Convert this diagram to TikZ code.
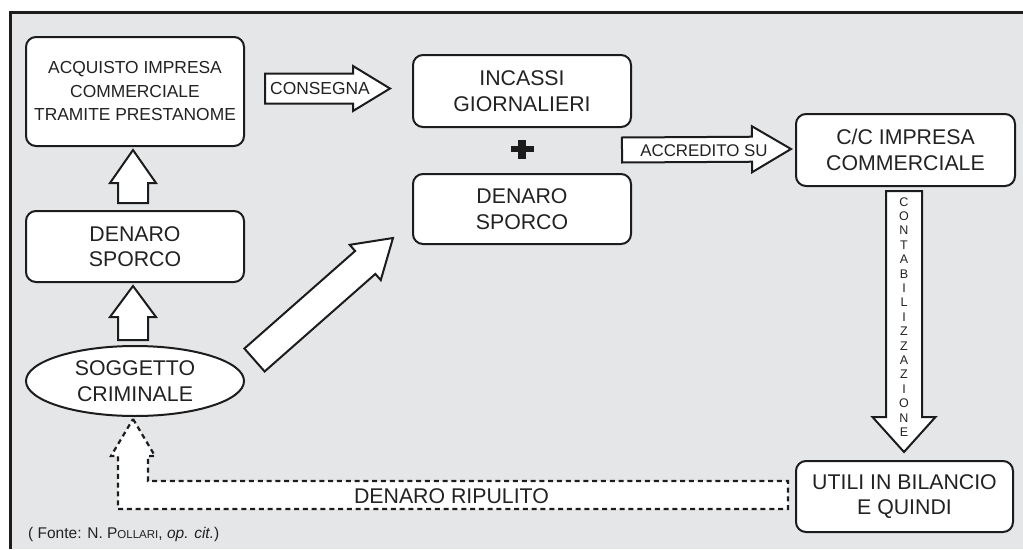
\documentclass[tikz,border=0pt]{standalone}
\usepackage{fontspec}
\setmainfont{Liberation Sans}
\usetikzlibrary{calc,shapes.geometric}

\definecolor{panel}{HTML}{E5E6E8}
\definecolor{ink}{HTML}{1C1C1C}
\definecolor{txt}{HTML}{222222}

% Block arrow: [style]{start}{tip}{shaft half width}{head half width}{head length}
\newcommand\fatarrow[6][]{%
  \coordinate (fa-hb) at ($(#3)!#6!(#2)$);
  \draw[fatarrow,#1]
    ($(#2)!#4!90:(#3)$) -- ($(fa-hb)!#4!90:(#3)$) -- ($(fa-hb)!#5!90:(#3)$)
    -- (#3)
    -- ($(fa-hb)!#5!-90:(#3)$) -- ($(fa-hb)!#4!-90:(#3)$) -- ($(#2)!#4!-90:(#3)$)
    -- cycle;}

\begin{document}
\begin{tikzpicture}[x=1pt,y=-1pt,
  box/.style={draw=ink, line width=2pt, rounded corners=10pt, fill=white,
    minimum width=218pt, align=center, inner sep=0pt, text=txt},
  oval/.style={draw=ink, line width=2pt, ellipse, fill=white,
    minimum width=218pt, minimum height=70pt, align=center, inner sep=0pt, text=txt},
  fatarrow/.style={draw=ink, line width=2pt, fill=white, line join=miter},
  dasharrow/.style={draw=ink, line width=2.2pt, fill=white, dash pattern=on 5pt off 3.8pt},
  big/.style={font=\fontsize{21.3}{25.5}\selectfont},
  mid/.style={font=\fontsize{17.4}{23.5}\selectfont},
  label/.style={inner sep=0pt, text=txt},
]
\useasboundingbox (0,0) rectangle (1023,549);
\fill[white] (0,0) rectangle (1023,549);
\fill[panel] (10.5,12) rectangle (1023,549);
\draw[ink, line width=3pt] (10.5,549) -- (10.5,12) -- (1023,12);

% boxes
\node[box, mid, minimum height=109pt] (A) at (135,91.5)
  {ACQUISTO IMPRESA\\COMMERCIALE\\TRAMITE PRESTANOME};
\node[box, big, minimum height=71pt] (B) at (135,246.5) {DENARO\\SPORCO};
\node[oval, big] (S) at (135,381) {SOGGETTO\\CRIMINALE};
\node[box, big, minimum height=72pt] (I) at (522,91) {INCASSI\\GIORNALIERI};
\node[box, big, minimum height=70pt] (D) at (522,209) {DENARO\\SPORCO};
\node[box, big, minimum width=219pt, minimum height=72pt] (C) at (905.5,150)
  {C/C IMPRESA\\COMMERCIALE};
\node[box, big, minimum width=217pt, minimum height=71pt] (U) at (904.5,496.5)
  {UTILI IN BILANCIO\\E QUINDI};

% plus sign between the two middle boxes
\coordinate (pl) at ($(I.south)!0.5!(D.north)+(0,-1.5)$);
\fill[ink] ($(pl)+(-11.5,-3.4)$) rectangle ($(pl)+(11.5,3.4)$);
\fill[ink] ($(pl)+(-3.7,-9.5)$) rectangle ($(pl)+(3.7,9.5)$);

% soggetto -> denaro sporco
\coordinate (p1s) at ($(S.north)+(-2,-5)$);
\coordinate (p1t) at ($(B.south)+(-2,3)$);
\fatarrow{p1s}{p1t}{15pt}{23pt}{31pt}

% denaro sporco -> acquisto
\coordinate (p2s) at ($(B.north)+(-2,-7)$);
\coordinate (p2t) at ($(A.south)+(-2,3)$);
\fatarrow{p2s}{p2t}{15pt}{23pt}{33pt}

% consegna
\coordinate (p3s) at ($(A.east)+(20,-3)$);
\coordinate (p3t) at ($(I.west)+(-22,-2.5)$);
\fatarrow{p3s}{p3t}{15pt}{22.5pt}{37pt}
\node[label, mid, anchor=west] (t3) at ($(p3s)+(5,0.5)$) {CONSEGNA};

% soggetto -> denaro sporco (centre)
\coordinate (p4s) at ($(S.east)+(9.5,-21)$);
\coordinate (p4t) at ($(D.west)+(-19,29)$);
\fatarrow{p4s}{p4t}{15.3pt}{23.5pt}{37pt}

% accredito su
\coordinate (p5s) at ($(I.south east)+(-10,22)$);
\coordinate (p5t) at ($(C.west)+(-4,-1)$);
\fatarrow{p5s}{p5t}{12.5pt}{23pt}{39pt}
\node[label, font=\fontsize{16.9}{20}\selectfont] (t5) at ($(p5s)+(82,0.5)$) {ACCREDITO SU};

% contabilizzazione
\coordinate (p6s) at ($(C.south)+(-1.5,4)$);
\coordinate (p6t) at ($(U.north)+(-0.5,-8)$);
\fatarrow{p6s}{p6t}{18pt}{31.5pt}{35pt}
\node[label, align=center, font=\fontsize{12.5}{14.4}\selectfont] (t6) at ($(p6s)+(0,126)$)
  {C\\O\\N\\T\\A\\B\\I\\L\\I\\Z\\Z\\A\\Z\\I\\O\\N\\E};

% denaro ripulito (dashed return arrow)
\coordinate (r1) at ($(S.south)+(-2,2)$);
\coordinate (r2) at ($(U.west)+(-7,0)$);
\draw[dasharrow] (r1) -- ++(22,37) -- ++(-7,0) |- ($(r2)+(0,-15.5)$)
  -- ($(r2)+(0,12.5)$) -| ($(r1)+(-15,37)$) -- ++(-7,0) -- cycle;
\node[label, big] (t7) at ($(r1|-r2)!0.5!(r2)+(-9,0)$) {DENARO RIPULITO};

% source note
\node[label, anchor=base west, font=\fontsize{15.5}{18}\selectfont] (src) at (28,538)
  {( Fonte: N. P{\fontsize{11.5}{13}\selectfont OLLARI}, \textit{op. cit.})};
\end{tikzpicture}
\end{document}
